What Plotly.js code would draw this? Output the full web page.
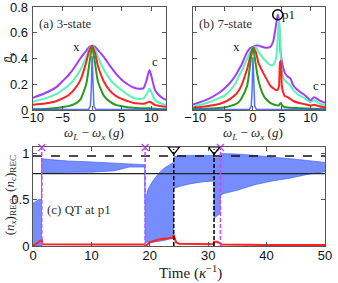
<!DOCTYPE html>
<html><head><meta charset="utf-8">
<script src="https://cdn.plot.ly/plotly-3.0.1.min.js"></script>
<style>html,body{margin:0;padding:0;background:#fff}#c{width:338px;height:283px}</style>
</head><body><div id="c"></div>
<script>
// ---- panel (a): 3-state spectra ----
const xa = [-10,-8,-6,-5,-4,-3,-2,-1,-0.5,0,0.5,1,2,3,4,5,6,7,8,8.7,9.2,9.7,10.1,10.6,11,12,12.5];
const aPurple = [0.095,0.13,0.18,0.225,0.27,0.33,0.4,0.46,0.49,0.5,0.49,0.465,0.41,0.345,0.285,0.235,0.2,0.175,0.165,0.17,0.23,0.31,0.25,0.16,0.13,0.09,0.08];
const aCyan   = [0.065,0.09,0.125,0.155,0.19,0.24,0.31,0.41,0.47,0.5,0.47,0.41,0.31,0.24,0.19,0.155,0.12,0.095,0.085,0.09,0.12,0.165,0.13,0.08,0.065,0.045,0.04];
const aRed    = [0.04,0.05,0.07,0.09,0.115,0.16,0.23,0.37,0.46,0.5,0.44,0.34,0.22,0.15,0.11,0.086,0.07,0.055,0.05,0.048,0.055,0.065,0.055,0.04,0.035,0.027,0.025];
const aGreen  = [0.005,0.008,0.015,0.022,0.03,0.045,0.08,0.2,0.35,0.49,0.36,0.22,0.11,0.065,0.04,0.03,0.022,0.017,0.014,0.013,0.013,0.013,0.012,0.01,0.008,0.006,0.005];
const xBlue = [-10,-0.6,-0.3,-0.15,0,0.15,0.3,0.6,12.5];
const aBlue = [0.003,0.005,0.03,0.15,0.42,0.15,0.03,0.005,0.003];
const yTicksA = [0,0.2,0.4,0.6,0.8];
const yTickTextA = ['0','0.2','0.4','0.6','0.8'];

// ---- panel (b): 7-state spectra ----
const xb = [-10.4,-8,-6,-5,-4,-3,-2.5,-2,-1,-0.5,0,0.5,1,2,3,3.5,4,4.3,4.5,4.7,4.85,5,5.3,5.5,6,6.5,7,8,9,10,10.6,11.5,12.5];
const bPurple = [0.043,0.08,0.13,0.166,0.21,0.27,0.31,0.35,0.45,0.48,0.49,0.5,0.5,0.485,0.49,0.53,0.66,0.74,0.7,0.5,0.43,0.38,0.32,0.29,0.26,0.245,0.19,0.145,0.115,0.075,0.1,0.075,0.056];
const bCyan   = [0.03,0.055,0.09,0.11,0.15,0.21,0.26,0.3,0.4,0.45,0.485,0.485,0.45,0.39,0.35,0.35,0.4,0.56,0.71,0.56,0.4,0.3,0.25,0.23,0.21,0.19,0.155,0.115,0.09,0.06,0.075,0.05,0.04];
const bRed    = [0.017,0.03,0.045,0.06,0.085,0.12,0.15,0.19,0.32,0.41,0.485,0.45,0.36,0.27,0.19,0.17,0.155,0.16,0.18,0.37,0.38,0.19,0.13,0.11,0.1,0.085,0.07,0.055,0.045,0.035,0.04,0.03,0.022];
const bGreen  = [0.006,0.01,0.015,0.02,0.03,0.045,0.06,0.09,0.19,0.35,0.485,0.35,0.22,0.1,0.055,0.045,0.038,0.035,0.035,0.05,0.055,0.04,0.027,0.024,0.02,0.018,0.016,0.014,0.012,0.01,0.009,0.007,0.006];
const xBlueB = [-10.4,-0.6,-0.3,-0.15,0,0.15,0.3,0.6,12.5];
const bBlue = [0.003,0.005,0.03,0.15,0.41,0.15,0.03,0.005,0.003];
const p1Point = {x:[4.3], y:[0.74]};

// ---- panel (c): quantum trajectory at p1 ----
const tEnv = [0,0.5,1.0,1.45,1.5,3,6,10,14,16.5,19.15,19.2,19.6,20.5,21.5,22.5,23.5,24.05,24.1,25,27,29,30.95,31.0,32.05,32.1,33,35,38,41,44,47,50];
const nxUpper = [0.46,0.48,0.5,0.5,0.94,0.93,0.915,0.905,0.895,0.885,0.875,0.45,0.6,0.7,0.78,0.84,0.88,0.9,0.96,0.97,0.975,0.975,0.975,0.95,0.95,0.995,0.995,0.99,0.975,0.96,0.94,0.92,0.9];
const nxLower = [0,0,0,0,0.79,0.79,0.79,0.795,0.81,0.85,0.85,0.04,0.04,0.04,0.05,0.06,0.08,0.1,0.62,0.64,0.67,0.69,0.7,0.3,0.35,0.55,0.57,0.6,0.66,0.7,0.73,0.77,0.8];
const tRed = [0,0.5,1.0,1.5,1.6,5,10,15,19.2,19.3,20,21,22,23,23.8,24.1,24.5,25,28,30.9,31.0,31.5,32.1,32.3,40,50];
const ncRec = [0,0.02,0.04,0.065,0.02,0.015,0.015,0.015,0.015,0.0,0.04,0.06,0.075,0.08,0.085,0.12,0.04,0.025,0.02,0.02,0.045,0.045,0.03,0.015,0.012,0.01];
const quantumJumps = [1.5,19.2,32.1];
const classicalJumps = [24.1,31.0];
const levelDashed = 0.97;
const levelSolid = 0.78;

const cPurple='#a23cff', cCyan='#55f5b8', cRed='#ff2222', cGreen='#2a9a18', cBlue='#3358ff', cMag='#c44cff';
const serif = 'Liberation Serif, DejaVu Serif, serif';
const sans = 'Liberation Sans, Arial, sans-serif';

function spec(x,y,col,xa,ya,w){return {x:x,y:y,xaxis:xa,yaxis:ya,mode:'lines',line:{color:col,width:w||2,shape:'spline',smoothing:0.6},hoverinfo:'skip'};}
function vlines(ts,top){const x=[],y=[];ts.forEach(t=>{x.push(t,t,null);y.push(0,top,null);});return {x,y};}

const traces = [
  spec(xa,aPurple,cPurple,'x','y'), spec(xa,aCyan,cCyan,'x','y'), spec(xa,aRed,cRed,'x','y'), spec(xa,aGreen,cGreen,'x','y'),
  {x:xBlue,y:aBlue,xaxis:'x',yaxis:'y',mode:'lines',line:{color:cBlue,width:1.5},opacity:0.85},
  spec(xb,bPurple,cPurple,'x2','y2'), spec(xb,bCyan,cCyan,'x2','y2'), spec(xb,bRed,cRed,'x2','y2'), spec(xb,bGreen,cGreen,'x2','y2'),
  {x:xBlueB,y:bBlue,xaxis:'x2',yaxis:'y2',mode:'lines',line:{color:cBlue,width:1.5},opacity:0.85},
  {x:p1Point.x,y:p1Point.y,xaxis:'x2',yaxis:'y2',mode:'markers',marker:{symbol:'circle-open',size:10,color:'#000',line:{width:1.5,color:'#000'}},cliponaxis:false},
  // panel c
  {x:tEnv,y:nxLower,xaxis:'x3',yaxis:'y3',mode:'lines',line:{color:cBlue,width:0.6}},
  {x:tEnv,y:nxUpper,xaxis:'x3',yaxis:'y3',mode:'lines',line:{color:cBlue,width:0.6},fill:'tonexty',
   fillcolor:'rgba(90,120,255,0.6)',
   fillpattern:{shape:'|',fgcolor:'#2447ff',bgcolor:'rgba(130,155,255,0.45)',size:2,solidity:0.5}},
  {x:tRed,y:ncRec,xaxis:'x3',yaxis:'y3',mode:'lines',line:{color:cRed,width:2}},
  {x:[0,50],y:[levelDashed,levelDashed],xaxis:'x3',yaxis:'y3',mode:'lines',line:{color:'#111',width:1.5,dash:'dash'}},
  {x:[0,50],y:[levelSolid,levelSolid],xaxis:'x3',yaxis:'y3',mode:'lines',line:{color:'#222',width:1.2}},
  Object.assign(vlines(quantumJumps,1.06),{xaxis:'x3',yaxis:'y3',mode:'lines',line:{color:cMag,width:1.5,dash:'4px,2px'},cliponaxis:false}),
  Object.assign(vlines(classicalJumps,1.04),{xaxis:'x3',yaxis:'y3',mode:'lines',line:{color:'#000',width:1.5,dash:'4px,2px'},cliponaxis:false}),
  {x:quantumJumps,y:quantumJumps.map(()=>1.06),xaxis:'x3',yaxis:'y3',mode:'markers',marker:{symbol:'x-thin-open',size:7,line:{color:cMag,width:1.5},color:cMag},cliponaxis:false},
  {x:classicalJumps,y:classicalJumps.map(()=>1.04),xaxis:'x3',yaxis:'y3',mode:'markers',marker:{symbol:'triangle-down-open',size:10,line:{color:'#000',width:1.3},color:'#000'},cliponaxis:false}
];

const ax = {showline:true,mirror:'ticks',linecolor:'#555',linewidth:1,ticks:'inside',ticklen:4,tickcolor:'#555',showgrid:false,zeroline:false,
  ticklabeloverflow:'allow',tickfont:{family:sans,size:13,color:'#111'}};
function ann(o){return Object.assign({showarrow:false,xanchor:'center',yanchor:'middle',font:{family:serif,size:13,color:'#222'}},o);}
const tickAnns = yTicksA.map((v,i)=>ann({xref:'paper',yref:'y',x:-0.011,y:v,xanchor:'right',text:yTickTextA[i],font:{family:sans,size:13,color:'#111'}}));

// plot area: x 33..325 px, y 7..246 px
const layout = {
  width:338,height:283,showlegend:false,paper_bgcolor:'#fff',plot_bgcolor:'#fff',
  margin:{l:33,r:13,t:7,b:37},
  xaxis:Object.assign({},ax,{domain:[0,0.4555],anchor:'y',range:[-10,12.5],tickvals:[-10,-5,0,5,10],ticklabelstandoff:-5}),
  yaxis:Object.assign({},ax,{domain:[0.569,1],anchor:'x',range:[0,0.8],tickvals:yTicksA,showticklabels:false}),
  xaxis2:Object.assign({},ax,{domain:[0.548,1],anchor:'y2',range:[-10.4,12.5],tickvals:[-10,-5,0,5,10],ticklabelstandoff:-5}),
  yaxis2:Object.assign({},ax,{domain:[0.569,1],anchor:'x2',range:[0,0.8],tickvals:yTicksA,showticklabels:false}),
  xaxis3:Object.assign({},ax,{domain:[0,1],anchor:'y3',range:[0,50],tickvals:[0,10,20,30,40,50],ticklabelstandoff:-3}),
  yaxis3:Object.assign({},ax,{domain:[0,0.414],anchor:'x3',range:[0,1.065],tickvals:[0,0.5,1],ticktext:['0','0.5','1']}),
  annotations:tickAnns.concat([
    ann({xref:'paper',yref:'paper',x:0.014,y:0.933,xanchor:'left',text:'(a) 3-state',font:{family:serif,size:13,color:'#333'}}),
    ann({xref:'paper',yref:'paper',x:0.562,y:0.933,xanchor:'left',text:'(b) 7-state',font:{family:serif,size:13,color:'#333'}}),
    ann({xref:'x',yref:'y',x:-2.6,y:0.49,text:'x'}),
    ann({xref:'x',yref:'y',x:10.7,y:0.375,text:'c'}),
    ann({xref:'x2',yref:'y2',x:-2.8,y:0.49,text:'x'}),
    ann({xref:'x2',yref:'y2',x:6.2,y:0.74,text:'p1'}),
    ann({xref:'x2',yref:'y2',x:10.9,y:0.19,text:'c'}),
    ann({xref:'paper',yref:'paper',x:-0.087,y:0.79,text:'<i>n̄</i><sub><i>x</i></sub>',textangle:-90}),
    ann({xref:'paper',yref:'paper',x:0.21,y:0.47,text:'<i>ω<sub>L</sub></i> − <i>ω<sub>x</sub></i> (<i>g</i>)'}),
    ann({xref:'paper',yref:'paper',x:0.755,y:0.47,text:'<i>ω<sub>L</sub></i> − <i>ω<sub>x</sub></i> (<i>g</i>)'}),
    ann({xref:'x3',yref:'y3',x:7.9,y:0.39,text:'(c) QT at p1',font:{family:serif,size:13,color:'#333'}}),
    ann({xref:'paper',yref:'paper',x:-0.077,y:0.21,text:'(<i>n<sub>x</sub></i>)<sub>REC</sub>, (<i>n<sub>c</sub></i>)<sub>REC</sub>',textangle:-90}),
    ann({xref:'paper',yref:'paper',x:0.538,y:-0.109,text:'Time (<i>κ</i><sup>−1</sup>)',font:{family:serif,size:15,color:'#222'}})
  ])
};
Plotly.newPlot('c',traces,layout,{displayModeBar:false,staticPlot:true});
</script></body></html>
